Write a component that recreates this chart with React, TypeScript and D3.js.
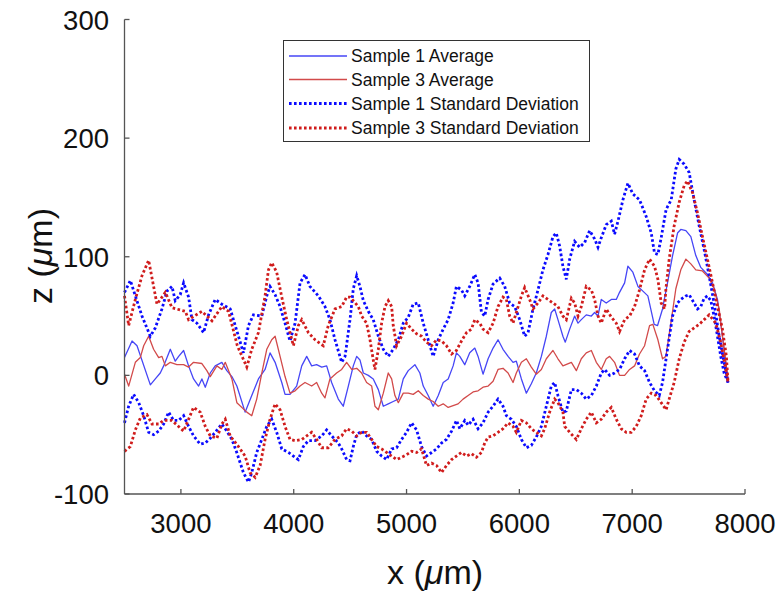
import React from "react";
import * as d3 from "d3";

type Pt = [number, number];

const xTicks = [3000, 4000, 5000, 6000, 7000, 8000];
const yTicks = [-100, 0, 100, 200, 300];

const legendLabels = [
  "Sample 1 Average",
  "Sample 3 Average",
  "Sample 1 Standard Deviation",
  "Sample 3 Standard Deviation",
];

const s1Avg: Pt[] = [
  [2500,15],[2567,29],[2611,25],[2729,-8],[2773,-3],[2817,2],[2847,8],[2906,22],[2950,12],[2980,16],[3024,21],[3068,8],[3112,-3],[3157,-9],[3186,-3],[3216,-10],[3260,2],[3304,8],[3363,11],[3407,4],[3452,-1],[3496,-9],[3569,-31],[3628,-17],[3687,-3],[3746,5],[3790,19],[3835,11],[3894,-6],[3923,-16],[3967,-16],[4026,-9],[4071,8],[4115,16],[4159,8],[4203,9],[4248,7],[4292,8],[4336,-6],[4395,-20],[4439,-26],
  [4484,-9],[4528,8],[4558,16],[4587,13],[4617,2],[4661,0],[4705,-3],[4750,-12],[4794,-26],[4838,-24],[4882,-22],[4927,-20],[4971,-3],[5015,4],[5074,9],[5118,2],[5148,-9],[5192,-17],[5236,-26],[5281,-17],[5325,-6],[5369,-3],[5413,8],
  [5442,19],[5472,16],[5516,9],[5560,19],[5605,23],[5634,16],[5678,1],[5723,14],[5767,23],[5811,30],[5855,22],[5900,16],[5944,11],[5973,12],[6018,-3],[6062,-15],[6106,-7],[6150,2],[6195,16],[6239,33],[6283,53],[6313,56],[6342,47],[6386,33],
  [6407,28],[6446,39],[6490,50],[6520,44],[6549,47],[6593,51],[6638,50],[6667,53],[6697,50],[6726,64],[6770,61],[6815,64],[6859,64],[6888,70],[6933,78],[6962,92],[7006,87],[7051,75],[7095,71],[7139,67],
  [7195,43],[7225,42],[7269,56],[7313,78],[7358,101],[7402,120],[7431,123],[7476,122],[7520,117],[7564,101],[7608,91],[7667,85],[7712,78],[7756,64],[7785,44],[7815,22],[7844,0],[7850,-6],
];

const s3Avg: Pt[] = [
  [2500,1],[2537,-9],[2596,11],[2640,15],[2670,25],[2714,33],[2758,22],[2803,15],[2832,16],[2862,8],[2906,11],[2965,9],[3024,9],[3068,7],[3112,11],[3186,10],[3230,4],[3260,-1],[3319,8],[3363,5],[3393,11],[3452,-3],[3496,-23],[3584,-31],[3628,-34],[3672,-20],[3717,2],[3761,22],[3805,30],[3835,33],[3879,16],[3923,-1],[3967,-15],[4012,-13],[4056,-9],[4100,-6],[4159,-9],[4203,-6],[4248,-15],[4277,-19],[4321,-3],[4380,2],[4425,5],
  [4469,11],[4514,5],[4558,6],[4602,2],[4646,-6],[4691,-9],[4720,-26],[4750,-29],[4794,-15],[4838,2],[4868,-3],[4897,-17],[4927,-23],[4971,-15],[5015,-15],[5059,-16],[5104,-13],[5148,-17],[5192,-20],[5236,-22],[5281,-26],[5325,-24],[5369,-27],
  [5457,-24],[5501,-20],[5546,-17],[5590,-14],[5634,-13],[5678,-10],[5723,-9],[5767,-5],[5811,5],[5855,6],[5900,2],[5944,-6],[5973,2],[6018,11],[6062,14],[6106,7],[6150,1],[6195,5],[6239,14],[6298,21],[6342,14],[6386,8],
  [6461,11],[6505,4],[6549,14],[6593,19],[6638,21],[6682,11],[6726,5],[6770,14],[6800,16],[6844,11],[6888,0],[6933,0],[6977,5],[7021,8],[7065,18],[7110,25],[7154,42],[7183,43],[7228,30],
  [7269,14],[7299,16],[7343,44],[7387,73],[7431,89],[7476,98],[7520,94],[7564,89],[7623,88],[7682,82],[7726,73],[7771,56],[7800,33],[7830,11],[7850,-6],
];

const s1SdUpper: Pt[] = [
  [2500,70],[2552,80],[2596,67],[2655,50],[2729,33],[2773,40],[2832,56],[2876,71],[2921,75],[2950,63],[2994,68],[3024,78],[3068,66],[3098,47],[3142,44],[3201,36],[3245,51],[3304,64],[3363,60],[3437,56],[3510,33],[3554,19],[3599,42],[3643,51],[3717,50],[3761,67],[3790,75],[3835,68],[3879,58],[3923,44],[3967,29],[4012,44],[4056,78],[4100,85],[4144,75],[4218,67],[4277,58],[4321,47],[4366,30],[4425,11],
  [4455,16],[4499,47],[4528,73],[4558,84],[4587,75],[4617,63],[4661,54],[4705,47],[4750,33],[4794,22],[4838,16],[4882,22],[4927,30],[4971,44],[5015,49],[5059,60],[5104,61],[5148,44],[5192,30],[5236,16],[5281,30],[5325,39],[5369,47],[5413,61],
  [5442,75],[5487,72],[5516,67],[5560,75],[5605,85],[5634,78],[5664,53],[5693,50],[5723,64],[5767,77],[5826,82],[5870,75],[5914,61],[5959,58],[6003,47],[6047,33],[6077,36],[6121,56],[6165,72],[6209,89],[6254,102],[6298,117],[6327,120],[6357,109],[6386,92],[6416,81],
  [6446,98],[6490,113],[6534,108],[6579,112],[6623,122],[6667,115],[6697,108],[6726,116],[6770,127],[6815,130],[6844,119],[6874,130],[6918,148],[6962,162],[7006,153],[7065,148],[7124,134],[7169,120],[7198,103],[7228,102],[7257,116],[7301,140],[7346,148],
  [7387,174],[7417,182],[7461,178],[7505,171],[7549,148],[7594,126],[7638,106],[7682,84],[7726,61],[7771,33],[7815,11],[7850,-6],
];

const s1SdLower: Pt[] = [
  [2500,-40],[2537,-26],[2581,-16],[2626,-23],[2670,-34],[2714,-48],[2758,-50],[2803,-47],[2847,-41],[2891,-31],[2935,-38],[2980,-38],[3024,-34],[3068,-43],[3112,-51],[3171,-58],[3216,-57],[3260,-53],[3304,-48],[3363,-41],[3407,-47],[3452,-54],[3495,-65],[3554,-82],[3599,-90],[3628,-82],[3672,-65],[3717,-54],[3761,-43],[3805,-37],[3849,-48],[3894,-62],[3953,-65],[3997,-68],[4041,-71],[4085,-60],[4130,-55],[4189,-55],[4248,-51],[4292,-46],[4336,-51],[4395,-57],[4425,-62],
  [4469,-71],[4499,-72],[4528,-60],[4558,-50],[4602,-47],[4646,-51],[4691,-54],[4735,-64],[4779,-68],[4823,-71],[4868,-62],[4912,-61],[4956,-54],[5000,-48],[5045,-40],[5089,-46],[5133,-60],[5177,-68],[5222,-65],[5266,-62],[5310,-57],[5354,-54],[5399,-47],[5443,-38],
  [5472,-45],[5516,-38],[5546,-42],[5590,-37],[5634,-45],[5678,-40],[5723,-31],[5767,-26],[5811,-20],[5855,-26],[5885,-34],[5929,-37],[5973,-43],[6018,-54],[6062,-61],[6106,-59],[6150,-52],[6195,-43],[6239,-26],[6283,-9],[6313,-6],[6342,-17],[6386,-31],[6416,-30],
  [6461,-12],[6505,-12],[6549,-15],[6593,-20],[6638,-17],[6682,-9],[6726,2],[6756,5],[6800,0],[6844,2],[6888,5],[6933,14],[6977,21],[7021,18],[7065,8],[7110,4],[7154,-6],[7198,-13],[7240,-17],
  [7269,-6],[7313,22],[7358,50],[7402,61],[7431,64],[7476,67],[7505,68],[7549,61],[7579,56],[7608,58],[7638,65],[7667,67],[7697,63],[7726,50],[7756,33],[7785,16],[7815,2],[7850,-6],
];

const s3SdUpper: Pt[] = [
  [2500,67],[2537,42],[2596,64],[2655,84],[2714,97],[2788,60],[2862,70],[2921,57],[3039,54],[3068,47],[3186,54],[3275,46],[3363,58],[3422,54],[3500,25],[3584,7],[3628,22],[3687,36],[3746,67],[3776,89],[3805,95],[3849,87],[3894,66],[3938,47],[3997,25],[4041,42],[4071,47],[4130,36],[4189,30],[4262,25],[4306,42],[4366,56],[4425,58],[4469,66],
  [4499,66],[4528,63],[4573,58],[4602,50],[4646,44],[4676,30],[4705,13],[4720,5],[4750,22],[4779,44],[4809,58],[4838,63],[4868,58],[4882,42],[4912,25],[4956,33],[5000,44],[5045,39],[5089,35],[5133,33],[5177,28],[5222,25],[5266,30],[5310,29],[5354,25],[5399,18],
  [5442,21],[5487,29],[5531,36],[5575,39],[5605,47],[5649,44],[5678,39],[5723,36],[5767,44],[5811,58],[5855,66],[5885,64],[5914,50],[5944,44],[5973,53],[6018,67],[6047,74],[6091,64],[6121,56],[6165,61],[6209,67],[6254,64],[6298,61],[6342,58],[6386,50],
  [6416,47],[6461,65],[6490,61],[6520,50],[6549,58],[6593,75],[6638,72],[6667,64],[6697,50],[6726,44],[6770,56],[6815,49],[6859,44],[6888,37],[6933,47],[6977,50],[7021,58],[7065,72],[7110,89],[7154,98],[7198,92],[7228,81],[7257,61],[7287,56],
  [7299,73],[7328,98],[7372,126],[7417,146],[7461,160],[7490,164],[7535,154],[7579,137],[7623,117],[7667,98],[7712,78],[7756,58],[7800,39],[7835,16],[7850,-6],
];

const s3SdLower: Pt[] = [
  [2500,-64],[2552,-60],[2596,-46],[2640,-36],[2699,-33],[2744,-41],[2803,-41],[2847,-38],[2921,-38],[3024,-47],[3112,-27],[3171,-31],[3216,-43],[3260,-51],[3319,-53],[3363,-41],[3393,-37],[3437,-51],[3510,-60],[3569,-68],[3613,-82],[3658,-86],[3702,-76],[3746,-54],[3790,-37],[3835,-24],[3879,-29],[3923,-43],[3967,-54],[4012,-55],[4071,-54],[4115,-51],[4159,-48],[4203,-54],[4248,-61],[4306,-61],[4366,-54],[4425,-51],
  [4469,-45],[4514,-47],[4558,-51],[4602,-48],[4646,-48],[4691,-54],[4735,-60],[4779,-62],[4823,-65],[4868,-68],[4912,-71],[4956,-69],[5000,-67],[5045,-64],[5089,-65],[5133,-62],[5177,-76],[5222,-74],[5266,-76],[5310,-82],[5354,-76],[5399,-71],
  [5442,-68],[5487,-65],[5531,-68],[5575,-66],[5619,-69],[5664,-65],[5693,-57],[5723,-52],[5767,-51],[5811,-48],[5855,-45],[5900,-40],[5944,-43],[5973,-48],[6018,-38],[6062,-40],[6106,-45],[6150,-48],[6195,-51],[6224,-45],[6268,-31],[6313,-20],[6342,-23],[6386,-31],
  [6402,-43],[6446,-48],[6505,-54],[6549,-45],[6593,-37],[6638,-31],[6682,-40],[6726,-37],[6770,-31],[6815,-27],[6859,-37],[6903,-45],[6947,-48],[6992,-48],[7036,-43],[7080,-34],[7124,-20],[7169,-15],[7213,-17],[7257,-23],[7301,-29],
  [7328,-20],[7372,-6],[7417,14],[7461,28],[7505,37],[7549,40],[7594,43],[7638,47],[7682,51],[7741,44],[7785,28],[7824,8],[7850,-6],
];

const W = 784;
const H = 599;
const FONT = "Arial, 'Liberation Sans', Helvetica, sans-serif";

const BLUE_SOLID = "#4646f6";
const RED_SOLID = "#d24a4a";
const BLUE_DOT = "#0a0aff";
const RED_DOT = "#d01c1c";

export default function App() {
  const x = d3.scaleLinear().domain([2500, 8000]).range([124.5, 745]);
  const y = d3.scaleLinear().domain([-100, 300]).range([494, 19.5]);
  const line = d3
    .line<Pt>()
    .x((d) => x(d[0]))
    .y((d) => y(d[1]))
    .curve(d3.curveLinear);

  const solids = [
    { data: s1Avg, color: BLUE_SOLID },
    { data: s3Avg, color: RED_SOLID },
  ];
  const dots = [
    { data: s1SdUpper, color: BLUE_DOT },
    { data: s1SdLower, color: BLUE_DOT },
    { data: s3SdUpper, color: RED_DOT },
    { data: s3SdLower, color: RED_DOT },
  ];

  const axisColor = "#555";
  const x0 = x(2500);
  const x1 = x(8000);
  const y0 = y(-100);
  const y1 = y(300);

  const legendStyles = [
    { color: BLUE_SOLID, dash: undefined, w: 1.3 },
    { color: RED_SOLID, dash: undefined, w: 1.3 },
    { color: BLUE_DOT, dash: "2.6 2.4", w: 2.8 },
    { color: RED_DOT, dash: "2.6 2.4", w: 2.8 },
  ];
  const legendRows = [56, 79.5, 103.5, 128];

  return (
    <svg
      width={W}
      height={H}
      style={{ position: "absolute", left: 0, top: 0, background: "#fff" }}
      fontFamily={FONT}
    >
      <rect x={0} y={0} width={W} height={H} fill="#fff" />
      {solids.map((s, i) => (
        <path
          key={"s" + i}
          d={line(s.data) || ""}
          fill="none"
          stroke={s.color}
          strokeWidth={1.3}
          strokeLinejoin="round"
        />
      ))}
      {dots.map((s, i) => (
        <path
          key={"d" + i}
          d={line(s.data) || ""}
          fill="none"
          stroke={s.color}
          strokeWidth={2.8}
          strokeDasharray="2.6 2.4"
        />
      ))}

      {/* axes */}
      <line x1={x0} y1={y0} x2={x1} y2={y0} stroke={axisColor} strokeWidth={1.3} />
      <line x1={x0} y1={y0} x2={x0} y2={y1} stroke={axisColor} strokeWidth={1.3} />
      {xTicks.map((t) => (
        <g key={"xt" + t}>
          <line x1={x(t)} x2={x(t)} y1={y0} y2={y0 - 5} stroke={axisColor} strokeWidth={1.3} />
          <text x={x(t)} y={533} textAnchor="middle" fontSize={27.5} fill="#111">
            {t}
          </text>
        </g>
      ))}
      {yTicks.map((t) => (
        <g key={"yt" + t}>
          <line x1={x0} x2={x0 + 5} y1={y(t)} y2={y(t)} stroke={axisColor} strokeWidth={1.3} />
          <text x={109} y={y(t) + 10} textAnchor="end" fontSize={27.5} fill="#111">
            {t}
          </text>
        </g>
      ))}

      <text x={435} y={584} textAnchor="middle" fontSize={34} fill="#111">
        x (<tspan fontStyle="italic">μ</tspan>m)
      </text>
      <text
        transform={`translate(52,256) rotate(-90)`}
        textAnchor="middle"
        fontSize={34}
        fill="#111"
      >
        z (<tspan fontStyle="italic">μ</tspan>m)
      </text>

      {/* legend */}
      <rect x={283.5} y={40.5} width={306} height={101} fill="#fff" stroke="#333" strokeWidth={1} />
      {legendLabels.map((lab, i) => (
        <g key={"lg" + i}>
          <line
            x1={289}
            x2={347}
            y1={legendRows[i]}
            y2={legendRows[i]}
            stroke={legendStyles[i].color}
            strokeWidth={legendStyles[i].w}
            strokeDasharray={legendStyles[i].dash}
          />
          <text x={351} y={legendRows[i] + 6} fontSize={17.5} fill="#111">
            {lab}
          </text>
        </g>
      ))}
    </svg>
  );
}
